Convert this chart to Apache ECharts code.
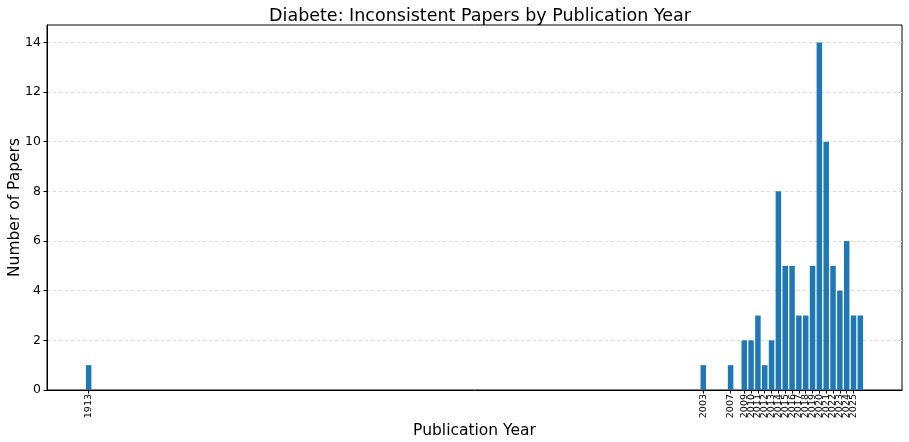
<!DOCTYPE html>
<html>
<head>
<meta charset="utf-8">
<script src="https://cdn.jsdelivr.net/npm/echarts@6/dist/echarts.min.js"></script>
<style>
  html, body { margin: 0; padding: 0; background: #fff; }
  #chart { width: 909px; height: 442px; }
</style>
</head>
<body>
<div id="chart"></div>
<script>
const years = [1913, 2003, 2007, 2009, 2010, 2011, 2012, 2013, 2014, 2015, 2016, 2017, 2018, 2019, 2020, 2021, 2022, 2023, 2024, 2025, 2026];
const counts = [1, 1, 1, 2, 2, 3, 1, 2, 8, 5, 5, 3, 3, 5, 14, 10, 5, 4, 6, 3, 3];
const yTicks = [0, 2, 4, 6, 8, 10, 12, 14];

const chart = echarts.init(document.getElementById("chart"));
const font = "DejaVu Sans";

chart.setOption({
  animation: false,
  textStyle: { fontFamily: font },
  title: {
    text: "Diabete: Inconsistent Papers by Publication Year",
    left: 475,
    top: 2,
    textAlign: "center",
    textStyle: { fontFamily: font, fontSize: 17.5, fontWeight: "normal", color: "#000" },
  },
  grid: {
    left: 47, right: 7, top: 25, bottom: 52,
    outerBoundsMode: "none",
    containLabel: false,
    show: true, borderColor: "#000", borderWidth: 1,
  },
  xAxis: {
    type: "value",
    min: 1906.9,
    max: 2032.1,
    name: "Publication Year",
    nameLocation: "middle",
    nameGap: 33,
    nameMoveOverlap: false,
    nameTextStyle: { fontSize: 15.5, color: "#000" },
    axisLine: { lineStyle: { color: "#000" } },
    axisTick: { show: true, customValues: years, length: 3.5, lineStyle: { color: "#000" } },
    axisLabel: {
      customValues: years,
      rotate: 90,
      fontSize: 9.5,
      color: "#000",
      margin: 4,
      formatter: (v) => String(v),
    },
    splitLine: { show: false },
  },
  yAxis: {
    type: "value",
    min: 0,
    max: 14.7,
    name: "Number of Papers",
    nameLocation: "middle",
    nameGap: 24,
    nameMoveOverlap: false,
    nameTextStyle: { fontSize: 15.5, color: "#000" },
    axisLine: { show: true, lineStyle: { color: "#000" } },
    axisTick: { show: true, customValues: yTicks, length: 3.5, lineStyle: { color: "#000" } },
    axisLabel: { customValues: yTicks, fontSize: 12.5, color: "#000", margin: 6 },
    splitLine: { show: true, lineStyle: { color: "#dcdcdc", type: [3, 3] } },
  },
  series: [
    {
      type: "bar",
      data: years.map((y, i) => [y, counts[i]]),
      barWidth: 5.5,
      itemStyle: { color: "#1f77b4" },
    },
  ],
});
</script>
</body>
</html>
